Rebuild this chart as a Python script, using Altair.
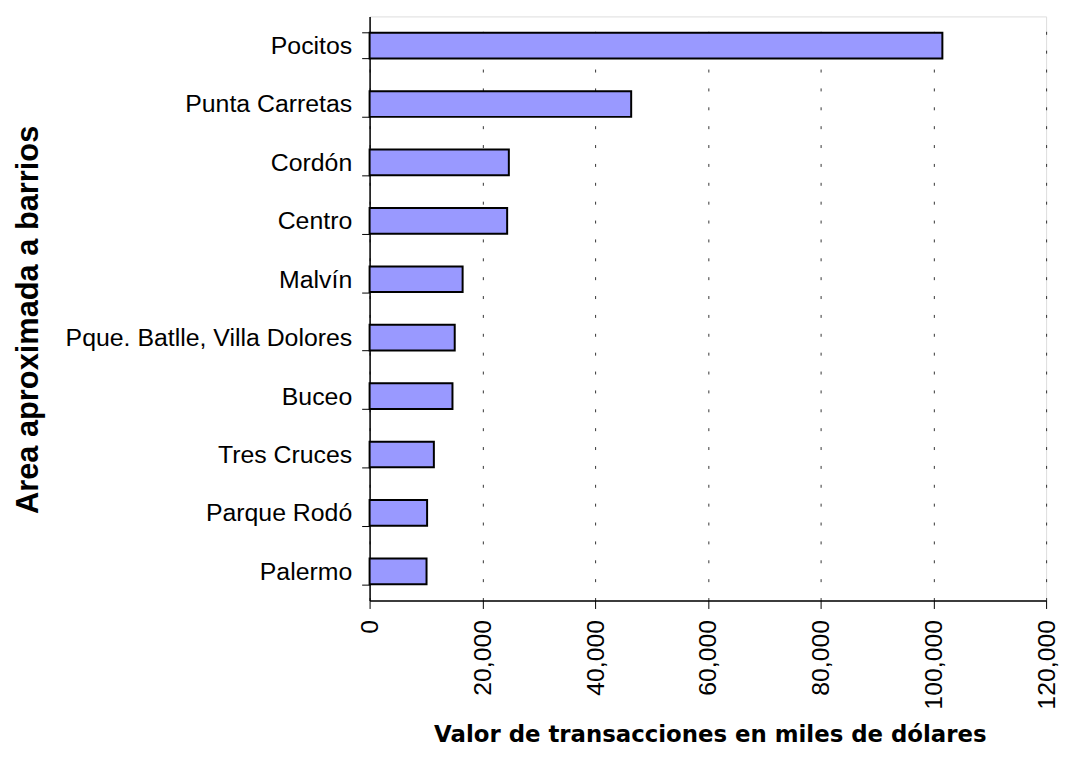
import altair as alt
import pandas as pd

barrios = ["Pocitos", "Punta Carretas", "Cordón", "Centro", "Malvín",
           "Pque. Batlle, Villa Dolores", "Buceo", "Tres Cruces",
           "Parque Rodó", "Palermo"]
valores = [101600, 46400, 24700, 24400, 16500, 15100, 14700, 11400, 10200, 10100]

df = pd.DataFrame({"barrio": barrios, "valor": valores})

W, H = 681, 588

chart = alt.Chart(df).mark_bar(
    fill="#9999FF", stroke="black", strokeWidth=2
).encode(
    x=alt.X("valor:Q",
            scale=alt.Scale(domain=[0, 120000], nice=False),
            axis=alt.Axis(
                title="Valor de transacciones en miles de dólares",
                values=[0, 20000, 40000, 60000, 80000, 100000, 120000],
                format=",d",
                labelAngle=270, labelAlign="right", labelBaseline="middle",
                labelFont="Liberation Sans", labelFontSize=25, labelColor="black",
                labelPadding=11, labelLimit=300,
                tickColor="black", tickSize=8, tickWidth=1,
                domainColor="black", domainWidth=1.5,
                grid=True, gridColor="#333333", gridDash=[3, 16], gridWidth=1,
                titleFont="DejaVu Sans", titleFontSize=23, titleFontWeight="bold",
                titleColor="black", titleY=135, titleBaseline="middle",
                titleX=W / 2 + 2, titleAnchor="middle",
            )),
    y=alt.Y("barrio:N", sort=barrios,
            scale=alt.Scale(paddingInner=0.56, paddingOuter=0.28),
            axis=alt.Axis(
                title="Area aproximada a barrios",
                tickBand="extent",
                labelFont="Liberation Sans", labelFontSize=25, labelColor="black",
                labelPadding=10, labelLimit=400,
                tickColor="black", tickSize=8, tickWidth=1,
                domainColor="black", domainWidth=1.5,
                titleFont="Liberation Sans", titleFontSize=31, titleFontWeight="bold",
                titleColor="black", titleAngle=270, titleBaseline="middle",
                titleX=-343, titleY=305, titleAnchor="middle",
            )),
).properties(
    width=W, height=H,
    autosize=alt.AutoSizeParams(type="none"),
    padding={"left": 364, "top": 6, "right": 15, "bottom": 148},
).configure_view(
    stroke="#888888", strokeWidth=1.5
).configure(background="white")

chart.save("out.html", embed_options={"renderer": "svg", "actions": False})
